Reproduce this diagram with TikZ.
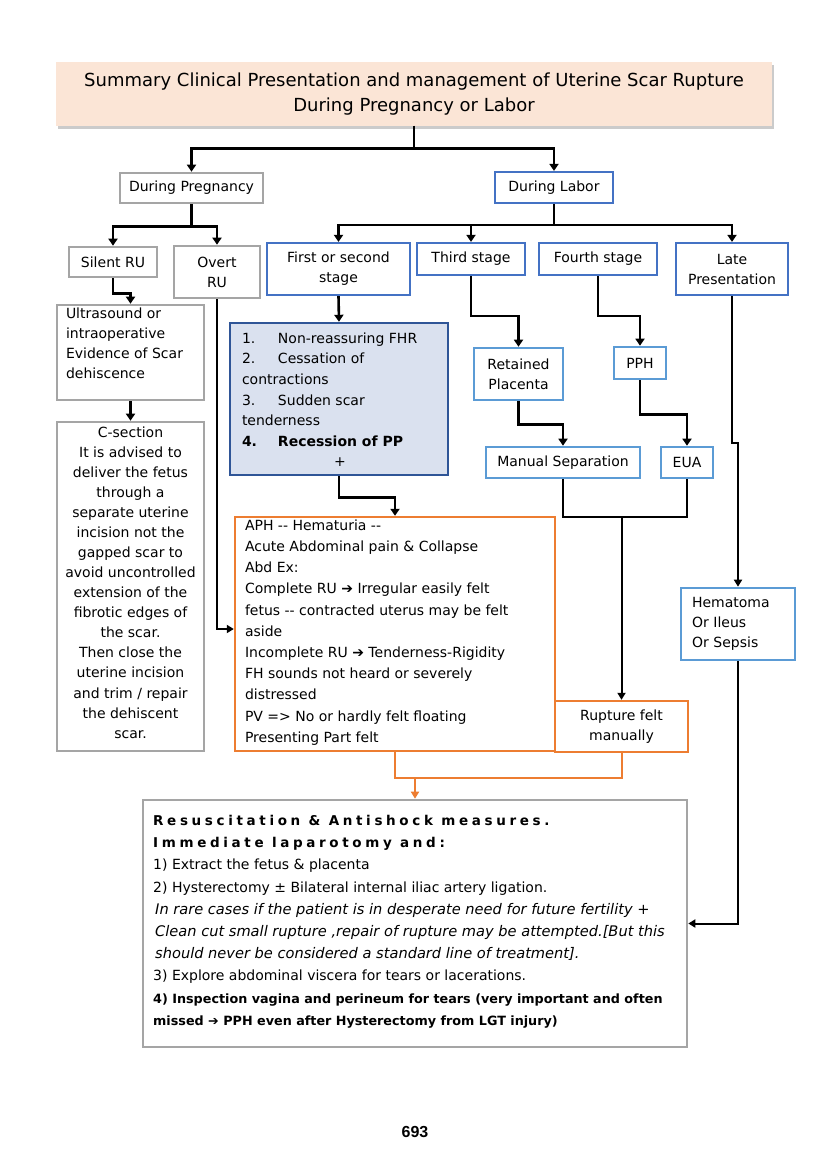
\documentclass[tikz,border=0pt]{standalone}
\usepackage{fontspec}
\setmainfont{DejaVu Sans}
\newfontfamily\numfont{Liberation Sans}
\newfontfamily\spacedfont[LetterSpace=27]{DejaVu Sans}
\usetikzlibrary{arrows.meta,shadows}
\definecolor{gbord}{HTML}{A5A5A5}
\definecolor{bbord}{HTML}{4472C4}
\definecolor{lbord}{HTML}{5B9BD5}
\definecolor{dbord}{HTML}{2F5597}
\definecolor{lfill}{HTML}{DAE1EF}
\definecolor{obord}{HTML}{ED7D31}
\definecolor{tfill}{HTML}{FBE5D6}
\begin{document}
\begin{tikzpicture}[x=1pt,y=-1pt,
  base/.style={draw, line width=2.6pt, inner sep=0pt, align=center, font=\fontsize{14}{20}\selectfont},
  gbox/.style={base, draw=gbord},
  bbox/.style={base, draw=bbord, line width=2.2pt},
  lbox/.style={base, draw=lbord, line width=2.6pt},
  obox/.style={base, draw=obord, line width=2.4pt},
  conn/.style={line width=2.6pt, -{Triangle[width=9pt,length=7pt]}},
  thinconn/.style={line width=2pt, -{Triangle[width=8pt,length=7pt]}},
  plain/.style={line width=2pt},
  fline/.style={anchor=base west, inner sep=0pt, font=\fontsize{14}{16}\selectfont},
  itline/.style={fline, font=\itshape\fontsize{14.6}{16}\selectfont},
  bfline/.style={fline, font=\bfseries\fontsize{12.75}{15}\selectfont},
  headline/.style={fline, font=\spacedfont\bfseries\fontsize{13.5}{15}\selectfont},
]
\useasboundingbox (0,0) rectangle (830,1172);
\fill[white] (0,0) rectangle (830,1172);

% title
\node[fill=tfill, minimum width=716pt, minimum height=63pt, inner sep=0pt,
  drop shadow={shadow xshift=2pt,shadow yshift=-3pt,fill=black!40},
  align=center, font=\fontsize{18}{25}\selectfont] (title) at (414,94)
  {Summary Clinical Presentation and management of Uterine Scar Rupture\\During Pregnancy or Labor};

% level 1
\node[gbox, minimum width=143pt, minimum height=30pt] (dpreg) at (191.5,188) {During Pregnancy};
\node[bbox, minimum width=118pt, minimum height=31pt] (dlabor) at (554,187.5) {During Labor};

% level 2
\node[gbox, minimum width=88pt, minimum height=30pt] (silent) at (113,262) {Silent RU};
\node[gbox, minimum width=86pt, minimum height=52pt] (overt) at (217,272) {Overt\\RU};
\node[bbox, minimum width=143pt, minimum height=52pt] (first) at (338.5,269) {First or second\\stage};
\node[bbox, minimum width=108pt, minimum height=32pt] (third) at (471,259) {Third stage};
\node[bbox, minimum width=118pt, minimum height=32pt] (fourth) at (598,259) {Fourth stage};
\node[bbox, minimum width=112pt, minimum height=52pt] (late) at (732,269) {Late\\Presentation};

% left column
\node[gbox, minimum width=147pt, minimum height=95pt] (ultra) at (130.5,352.5)
  {\parbox[c][90pt][t]{129pt}{\raggedright Ultrasound or\\intraoperative\\Evidence of Scar\\dehiscence}};
\node[gbox, minimum width=147pt, minimum height=329pt, font=\fontsize{14}{20.07}\selectfont] (csec) at (130.5,586.5)
  {\parbox[c][320pt][t]{140pt}{\centering C-section\\It is advised to\\deliver the fetus\\through a\\separate uterine\\incision not the\\gapped scar to\\avoid uncontrolled\\extension of the\\fibrotic edges of\\the scar.\\Then close the\\uterine incision\\and trim / repair\\the dehiscent\\scar.}};

% signs box
\node[base, draw=dbord, fill=lfill, line width=2.4pt, minimum width=218pt, minimum height=152pt,
  font=\fontsize{14}{20.6}\selectfont] (list) at (339,399)
  {\parbox[c][132.6pt][t]{194pt}{\raggedright
   \makebox[36pt][l]{1.}Non-reassuring FHR\\
   \makebox[36pt][l]{2.}Cessation of\\
   contractions\\
   \makebox[36pt][l]{3.}Sudden scar\\
   tenderness\\
   {\bfseries\makebox[36pt][l]{4.}Recession of PP}\\
   \hspace*{92pt}+}};

% orange box
\node[obox, minimum width=320pt, minimum height=234pt, font=\fontsize{14}{21.2}\selectfont] (orange) at (395,634)
  {\parbox[c][228.6pt][t]{300pt}{\raggedright
   APH -{}- Hematuria -{}-\\
   Acute Abdominal pain \& Collapse\\
   Abd Ex:\\
   Complete RU ➔ Irregular easily felt\\
   fetus -{}- contracted uterus may be felt\\
   aside\\
   Incomplete RU ➔ Tenderness-Rigidity\\
   FH sounds not heard or severely\\
   distressed\\
   PV => No or hardly felt floating\\
   Presenting Part felt}};

% third / fourth stage branches
\node[lbox, minimum width=89pt, minimum height=52pt] (retained) at (518.5,374) {Retained\\Placenta};
\node[lbox, minimum width=52pt, minimum height=32pt] (pph) at (640,363) {PPH};
\node[lbox, minimum width=154pt, minimum height=31pt] (manual) at (563,462.5) {Manual Separation};
\node[lbox, minimum width=52pt, minimum height=31pt] (eua) at (687,462.5) {EUA};
\node[lbox, minimum width=114pt, minimum height=72pt, text width=92pt, align=left] (hema) at (738,624)
  {Hematoma\\Or Ileus\\Or Sepsis};
\node[obox, minimum width=133pt, minimum height=51pt] (rupture) at (621.5,726.5) {Rupture felt\\manually};

% final box
\node[gbox, minimum width=544pt, minimum height=247pt] (final) at (415,923.5) {};
\node[headline] (f1) at (153,825.5) {Resuscitation \& Antishock measures.};
\node[headline] (f2) at (153,847.5) {Immediate laparotomy and:};
\node[fline] (f3) at (153,869.5) {1) Extract the fetus \& placenta};
\node[fline] (f4) at (153,892.5) {2) Hysterectomy ± Bilateral internal iliac artery ligation.};
\node[itline] (f5) at (155,914.5) {In rare cases if the patient is in desperate need for future fertility +};
\node[itline] (f6) at (155,936.5) {Clean cut small rupture ,repair of rupture may be attempted.[But this};
\node[itline] (f7) at (155,958.5) {should never be considered a standard line of treatment].};
\node[fline] (f8) at (153,980.5) {3) Explore abdominal viscera for tears or lacerations.};
\node[bfline] (f9) at (153,1003.5) {4) Inspection vagina and perineum for tears (very important and often};
\node[bfline] (f10) at (153,1025.5) {missed {\mdseries ➔} PPH even after Hysterectomy from LGT injury)};

% page number
\node[font=\numfont\bfseries\fontsize{16}{18}\selectfont, inner sep=0pt] (pg) at (415,1132) {693};

% connectors
\draw[conn] (title.south) -- ++(0,23) coordinate (tj) -| (dpreg.north);
\draw[conn] (tj) -| (dlabor.north);
\draw[conn] (dpreg.south) -- ++(0,22) coordinate (pj) -| (silent.north);
\draw[conn] (pj) -| (overt.north);
\draw[conn] (dlabor.south) -- ++(0,21) coordinate (lj) -| (first.north);
\draw[conn] (lj) -| (third.north);
\draw[conn] (lj) -| (late.north);
\draw[conn] (silent.south) -- ++(0,15) -| (ultra.north);
\draw[conn] (ultra.south) -- (csec.north);
\draw[conn] (first.south) -- (list.north);
\draw[conn] (list.south) -- ++(0,21) -| (orange.north);
\draw[thinconn, line width=2.3pt] (overt.south) |- ([yshift=5pt]orange.west);
\draw[conn] (third.south) -- ++(0,40) -| (retained.north);
\draw[conn] (fourth.south) -- ++(0,40) -| (pph.north);
\draw[conn] (retained.south) -- ++(0,23) -| (manual.north);
\draw[conn] (pph.south) -- ++(0,34) -| (eua.north);
\draw[plain] (manual.south) -- ++(0,38) coordinate (mj) -| (eua.south);
\draw[thinconn] (rupture.north |- mj) -- (rupture.north);
\draw[thinconn] (late.south) -- ++(0,147) -| (hema.north);
\draw[thinconn] (hema.south) |- (final.east);
\draw[plain, draw=obord] (orange.south) -- ++(0,26) coordinate (oj) -| (rupture.south);
\draw[thinconn, draw=obord, fill=obord] (final.north |- oj) -- (final.north);
\end{tikzpicture}
\end{document}
